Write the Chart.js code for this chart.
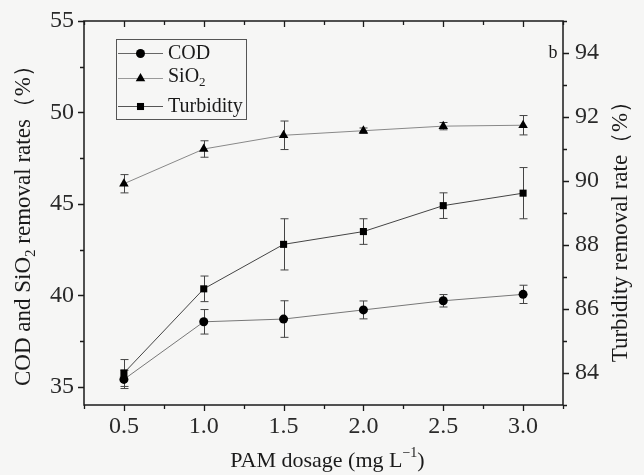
<!DOCTYPE html>
<html><head><meta charset="utf-8">
<script src="https://cdn.jsdelivr.net/npm/chart.js@4"></script>
<style>html,body{margin:0;padding:0;background:#f6f6f5}#wrap{width:644px;height:475px}</style>
</head><body><div id="wrap"><canvas id="c" width="644" height="475"></canvas></div>
<script>
// ---- data ----
const dosage = [0.5, 1.0, 1.5, 2.0, 2.5, 3.0];
const codRemoval = [35.4, 38.55, 38.7, 39.2, 39.7, 40.05];
const codError = [0.5, 0.67, 1.0, 0.49, 0.34, 0.5];
const sio2Removal = [46.1, 48.0, 48.75, 49.0, 49.25, 49.3];
const sio2Error = [0.5, 0.45, 0.78, 0.15, 0.2, 0.53];
const turbidityRemoval = [84.0, 86.63, 88.02, 88.42, 89.23, 89.62];
const turbidityError = [0.42, 0.4, 0.8, 0.4, 0.4, 0.8];
const xTickLabels = ['0.5', '1.0', '1.5', '2.0', '2.5', '3.0'];
const leftTickLabels = ['35', '40', '45', '50', '55'];
const rightTickLabels = ['84', '86', '88', '90', '92', '94'];
const seriesNames = ['COD', 'SiO2', 'Turbidity'];
const leftTitle = [['COD and SiO', 0], ['2', -1], [' removal rates（%）', 0]];
const rightTitle = [['Turbidity removal rate（%）', 0]];
const xTitle = [['PAM dosage (mg L', 0], ['−1', 1], [')', 0]];
const panelLabel = 'b';

const FONT = '"Liberation Serif","Times New Roman",serif';

function pts(ys) { return dosage.map((x, i) => ({x: x, y: ys[i]})); }

function drawMarker(ctx, style, x, y, r) {
  ctx.fillStyle = '#000';
  ctx.beginPath();
  if (style === 'circle') { ctx.arc(x, y, r, 0, Math.PI * 2); }
  else if (style === 'rect') { const s = r * Math.SQRT1_2; ctx.rect(x - s, y - s, 2 * s, 2 * s); }
  else if (style === 'triangle') {
    for (let k = 0; k < 3; k++) {
      const a = k * 2 * Math.PI / 3;
      const px = x + Math.sin(a) * r, py = y - Math.cos(a) * r;
      if (k === 0) ctx.moveTo(px, py); else ctx.lineTo(px, py);
    }
    ctx.closePath();
  }
  ctx.fill();
}

function drawRich(ctx, parts, x, y, rot, size) {
  ctx.save();
  ctx.translate(x, y);
  ctx.rotate(rot);
  const small = Math.round(size * 0.65);
  let total = 0;
  parts.forEach(p => { ctx.font = (p[1] ? small : size) + 'px ' + FONT; total += ctx.measureText(p[0]).width; });
  let cx = -total / 2;
  ctx.textBaseline = 'middle';
  ctx.textAlign = 'left';
  ctx.fillStyle = '#1a1a1a';
  parts.forEach(p => {
    ctx.font = (p[1] ? small : size) + 'px ' + FONT;
    const dy = p[1] === -1 ? size * 0.3 : (p[1] === 1 ? -size * 0.33 : 0);
    ctx.fillText(p[0], cx, dy);
    cx += ctx.measureText(p[0]).width;
  });
  ctx.restore();
}

function drawRichLeft(ctx, parts, x, y, size) {
  ctx.save();
  const small = Math.round(size * 0.65);
  ctx.textBaseline = 'middle';
  ctx.textAlign = 'left';
  ctx.fillStyle = '#1a1a1a';
  let cx = x;
  parts.forEach(p => {
    ctx.font = (p[1] ? small : size) + 'px ' + FONT;
    const dy = p[1] === -1 ? size * 0.3 : 0;
    ctx.fillText(p[0], cx, y + dy);
    cx += ctx.measureText(p[0]).width;
  });
  ctx.restore();
}

const decor = {
  id: 'decor',
  beforeDatasetsDraw(chart) {
    const ctx = chart.ctx;
    const xs = chart.scales.x;
    ctx.save();
    ctx.strokeStyle = '#444';
    ctx.lineWidth = 1;
    chart.data.datasets.forEach(ds => {
      const ys = chart.scales[ds.yAxisID];
      ds.data.forEach((p, j) => {
        const e = ds.errors[j];
        const px = Math.round(xs.getPixelForValue(p.x)) + 0.5;
        const y1 = ys.getPixelForValue(p.y + e), y2 = ys.getPixelForValue(p.y - e);
        ctx.beginPath();
        ctx.moveTo(px, y1); ctx.lineTo(px, y2);
        ctx.moveTo(px - 4, y1); ctx.lineTo(px + 4, y1);
        ctx.moveTo(px - 4, y2); ctx.lineTo(px + 4, y2);
        ctx.stroke();
      });
    });
    ctx.restore();
  },
  afterDraw(chart) {
    const ctx = chart.ctx;
    const a = chart.chartArea;
    const xs = chart.scales.x, yl = chart.scales.yL, yr = chart.scales.yR;
    ctx.save();
    ctx.strokeStyle = '#1a1a1a';
    ctx.lineWidth = 1.5;
    ctx.strokeRect(a.left, a.top, a.right - a.left, a.bottom - a.top);
    ctx.lineWidth = 1.3;
    ctx.beginPath();
    xs.ticks.forEach(t => {
      const v = t.value;
      const major = Math.abs(v * 2 - Math.round(v * 2)) < 1e-6;
      const px = Math.round(xs.getPixelForValue(v)) + 0.5;
      const len = major ? 6 : 4;
      ctx.moveTo(px, a.bottom); ctx.lineTo(px, a.bottom + len);
      ctx.moveTo(px, a.top); ctx.lineTo(px, a.top + len);
    });
    yl.ticks.forEach(t => {
      const v = t.value;
      const major = Math.abs(v / 5 - Math.round(v / 5)) < 1e-6;
      const py = Math.round(yl.getPixelForValue(v)) + 0.5;
      const len = major ? 6 : 4;
      ctx.moveTo(a.left - len, py); ctx.lineTo(a.left, py);
    });
    yr.ticks.forEach(t => {
      const v = t.value;
      const major = Math.abs(v / 2 - Math.round(v / 2)) < 1e-6;
      const py = Math.round(yr.getPixelForValue(v)) + 0.5;
      const len = major ? 6 : 4;
      ctx.moveTo(a.right, py); ctx.lineTo(a.right + len, py);
    });
    ctx.stroke();
    ctx.restore();

    // axis titles
    drawRich(ctx, leftTitle, 24, 220, -Math.PI / 2, 23);
    drawRich(ctx, rightTitle, 621, 226, -Math.PI / 2, 23);
    drawRich(ctx, xTitle, (a.left + a.right) / 2 + 4, 461, 0, 22);

    // panel label
    ctx.save();
    ctx.font = '18px ' + FONT;
    ctx.fillStyle = '#1a1a1a';
    ctx.textAlign = 'center';
    ctx.textBaseline = 'middle';
    ctx.fillText(panelLabel, 553, 53);
    ctx.restore();

    // legend
    ctx.save();
    ctx.strokeStyle = '#555';
    ctx.lineWidth = 1;
    ctx.strokeRect(116.5, 39.5, 130, 80);
    const rows = [53, 78, 106];
    const styles = ['circle', 'triangle', 'rect'];
    const radii = [4.5, 5.5, 5];
    const lineCols = ['#666', '#999', '#555'];
    rows.forEach((ry, i) => {
      ctx.strokeStyle = lineCols[i];
      ctx.beginPath(); ctx.moveTo(118, ry + 0.5); ctx.lineTo(163, ry + 0.5); ctx.stroke();
      drawMarker(ctx, styles[i], 140.5, ry + 0.5, radii[i]);
    });
    ctx.restore();
    drawRichLeft(ctx, [['COD', 0]], 168, rows[0] + 1, 20);
    drawRichLeft(ctx, [['SiO', 0], ['2', -1]], 168, rows[1] - 1, 20);
    drawRichLeft(ctx, [['Turbidity', 0]], 168, rows[2] + 1, 20);
  }
};

const tickFont = {family: FONT, size: 24};

new Chart(document.getElementById('c'), {
  type: 'line',
  data: {
    datasets: [
      {label: seriesNames[0], data: pts(codRemoval), errors: codError, yAxisID: 'yL',
       borderColor: '#777', borderWidth: 1, pointStyle: 'circle', pointRadius: 4.5,
       pointBackgroundColor: '#000', pointBorderColor: '#000', pointBorderWidth: 0},
      {label: seriesNames[1], data: pts(sio2Removal), errors: sio2Error, yAxisID: 'yL',
       borderColor: '#888', borderWidth: 1, pointStyle: 'triangle', pointRadius: 5.5,
       pointBackgroundColor: '#000', pointBorderColor: '#000', pointBorderWidth: 0},
      {label: seriesNames[2], data: pts(turbidityRemoval), errors: turbidityError, yAxisID: 'yR',
       borderColor: '#444', borderWidth: 1, pointStyle: 'rect', pointRadius: 5,
       pointBackgroundColor: '#000', pointBorderColor: '#000', pointBorderWidth: 0}
    ]
  },
  options: {
    responsive: false,
    animation: false,
    layout: {padding: {top: 21, left: 0, right: 0, bottom: 0}},
    plugins: {legend: {display: false}, tooltip: {enabled: false}},
    scales: {
      x: {
        type: 'linear', position: 'bottom', min: 0.25, max: 3.25,
        ticks: {stepSize: 0.25, autoSkip: false, maxRotation: 0, padding: 1, includeBounds: false,
                font: tickFont, color: '#2a2a2a',
                callback: v => (Math.abs(v * 2 - Math.round(v * 2)) < 1e-6 && xTickLabels.includes(Number(v).toFixed(1))) ? Number(v).toFixed(1) : ''},
        grid: {display: true, drawOnChartArea: false, drawTicks: true, tickLength: 6, tickColor: 'rgba(0,0,0,0)'},
        border: {display: false},
        afterFit: s => { s.height = 70; }
      },
      yL: {
        type: 'linear', position: 'left', min: 34, max: 55,
        ticks: {stepSize: 2.5, autoSkip: false, padding: 4, includeBounds: false, font: tickFont, color: '#2a2a2a',
                callback: v => leftTickLabels.includes(String(v)) ? String(v) : ''},
        grid: {display: true, drawOnChartArea: false, drawTicks: true, tickLength: 6, tickColor: 'rgba(0,0,0,0)'},
        border: {display: false},
        afterFit: s => { s.width = 84; }
      },
      yR: {
        type: 'linear', position: 'right', min: 83, max: 95,
        ticks: {stepSize: 1, autoSkip: false, padding: 6, includeBounds: false, font: tickFont, color: '#2a2a2a',
                callback: v => rightTickLabels.includes(String(v)) ? String(v) : ''},
        grid: {display: true, drawOnChartArea: false, drawTicks: true, tickLength: 6, tickColor: 'rgba(0,0,0,0)'},
        border: {display: false},
        afterFit: s => { s.width = 81; }
      }
    }
  },
  plugins: [decor]
});
</script>
</body></html>
